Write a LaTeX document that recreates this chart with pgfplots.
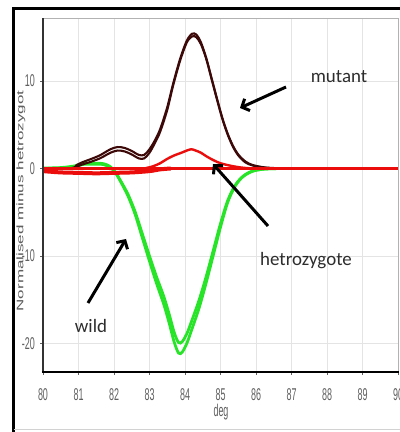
\documentclass[border=0pt]{standalone}
\usepackage{pgfplots}
\pgfplotsset{compat=1.18}
\usepackage{fontspec}
\setmainfont{Liberation Sans}
\newfontfamily\calib{Carlito}
\usetikzlibrary{arrows.meta}

\definecolor{mutantc}{RGB}{60,8,8}
\definecolor{hetc}{RGB}{235,12,12}
\definecolor{wildc}{RGB}{40,228,40}
\definecolor{gridc}{RGB}{228,228,228}
\definecolor{tickc}{RGB}{95,95,95}
\definecolor{notec}{RGB}{45,45,45}

\begin{document}
\begin{tikzpicture}
\useasboundingbox (0bp,0bp) rectangle (400bp,432bp);
\fill[white] (0bp,0bp) rectangle (400bp,432bp);
% outer frame
\draw[black, line width=3bp] (13.5bp,-2bp) -- (13.5bp,423bp) -- (402bp,423bp);
\draw[gray!35, line width=1bp] (13.5bp,2bp) -- (402bp,2bp);

\begin{axis}[
  at={(43bp,60bp)}, anchor=south west,
  scale only axis, width=355bp, height=354bp,
  xmin=80, xmax=90, ymin=-23.26, ymax=17.2,
  axis line style={draw=none},
  clip mode=individual,
  grid=major, grid style={gridc, line width=0.8bp},
  xtick={80,81,...,90}, ytick={-20,-10,0,10},
  xtick pos=bottom, ytick pos=left,
  tick align=outside, major tick length=3bp,
  tick style={tickc, line width=0.6bp},
  xticklabel={\scalebox{1}[1.9]{\pgfmathprintnumber[assume math mode=true]{\tick}}},
  yticklabel={\scalebox{1}[1.9]{\pgfmathprintnumber[assume math mode=true]{\tick}}},
  xticklabel style={font=\fontsize{9}{9}\selectfont, text=tickc, anchor=center, inner sep=0pt, yshift=-20bp},
  yticklabel style={font=\fontsize{9}{9}\selectfont, text=tickc, anchor=east, inner sep=0pt, xshift=-5bp},
]
% wild type (two replicates)
\addplot[wildc, line width=2.8bp, smooth, tension=0.5] coordinates {
(80.0,0.0) (80.5,0.05) (80.9,0.2) (81.1,0.45) (81.4,0.5) (81.7,0.45) (81.9,0.1) (82.05,-0.55) (82.2,-1.6) (82.4,-3.2) (82.6,-5.3) (82.8,-7.95) (83.0,-10.6) (83.2,-13.15) (83.4,-15.5) (83.55,-17.6) (83.7,-19.9) (83.82,-21.1) (83.92,-21.0) (84.05,-20.0) (84.2,-18.3) (84.4,-15.9) (84.6,-13.0) (84.8,-9.85) (85.0,-6.7) (85.2,-3.9) (85.4,-2.1) (85.6,-1.05) (85.8,-0.5) (86.0,-0.2) (86.3,-0.05) (87,0) (90,0)};
\addplot[wildc, line width=2.8bp, smooth, tension=0.5] coordinates {
(80.0,0.05) (80.5,0.1) (80.9,0.3) (81.1,0.55) (81.4,0.6) (81.7,0.55) (81.9,0.2) (82.05,-0.5) (82.2,-1.5) (82.4,-3.0) (82.6,-5.0) (82.8,-7.5) (83.0,-10.0) (83.2,-12.4) (83.4,-14.6) (83.55,-16.6) (83.7,-18.8) (83.82,-19.9) (83.92,-19.8) (84.05,-18.9) (84.2,-17.3) (84.4,-15.0) (84.6,-12.3) (84.8,-9.3) (85.0,-6.3) (85.2,-3.7) (85.4,-2.0) (85.6,-1.0) (85.8,-0.45) (86.0,-0.2) (86.3,-0.05) (87,0) (90,0)};
% mutant (two replicates)
\addplot[mutantc, line width=2.1bp, smooth, tension=0.5] coordinates {
(80.0,0) (80.8,0.05) (80.95,0.4) (81.1,0.7) (81.3,1.0) (81.6,1.5) (81.9,2.2) (82.1,2.45) (82.3,2.35) (82.5,2.0) (82.7,1.55) (82.85,1.55) (83.0,2.2) (83.15,3.2) (83.3,4.5) (83.5,7.0) (83.66,9.6) (83.86,12.5) (84.05,14.6) (84.2,15.4) (84.32,15.3) (84.45,14.4) (84.6,12.6) (84.75,10.3) (84.9,8.0) (85.05,5.8) (85.2,4.0) (85.35,2.6) (85.5,1.6) (85.7,0.8) (85.9,0.4) (86.2,0.15) (86.5,0.05) (87,0)};
\addplot[mutantc, line width=2.1bp, smooth, tension=0.5] coordinates {
(80.0,0) (80.8,0.0) (80.95,0.2) (81.1,0.45) (81.3,0.7) (81.6,1.15) (81.9,1.8) (82.1,2.05) (82.3,1.95) (82.5,1.6) (82.7,1.15) (82.85,1.15) (83.0,1.8) (83.15,2.9) (83.3,4.2) (83.5,6.7) (83.66,9.4) (83.86,12.3) (84.05,14.4) (84.2,15.1) (84.32,15.0) (84.45,14.2) (84.6,12.5) (84.75,10.2) (84.9,7.9) (85.05,5.7) (85.2,3.9) (85.35,2.5) (85.5,1.5) (85.7,0.7) (85.9,0.35) (86.2,0.1) (86.5,0.03) (87,0)};
% heterozygote reference
\addplot[hetc, line width=4bp, smooth] coordinates {
(80.0,-0.3) (80.5,-0.45) (81.0,-0.5) (81.5,-0.55) (82.0,-0.5) (82.5,-0.45) (83.0,-0.3) (83.3,-0.1) (83.6,0)};
\addplot[hetc, line width=3.2bp] coordinates {(80,0) (90,0)};
\addplot[hetc, line width=2.4bp, smooth, tension=0.5] coordinates {
(82.9,0.05) (83.1,0.25) (83.3,0.6) (83.5,1.1) (83.7,1.5) (83.9,1.8) (84.05,2.05) (84.18,2.2) (84.3,2.05) (84.45,1.8) (84.6,1.4) (84.8,0.95) (85.0,0.6) (85.3,0.3) (85.6,0.1) (85.9,0)};
% plot frame
\draw[gray!60, line width=0.8bp] (rel axis cs:0,1) -- (rel axis cs:1,1) -- (rel axis cs:1,0);
\draw[black!80, line width=1.5bp] (rel axis cs:0,0) -- (rel axis cs:0,1);
\draw[black, line width=2.5bp] (rel axis cs:-0.003,0) -- (rel axis cs:1.003,0);
\end{axis}

% axis titles
\node[rotate=90, text=tickc, font=\fontsize{9.5}{9.5}\selectfont] at (21bp,231bp)
  {\scalebox{1.8}[1]{Normalised minus hetrozygot}};
\node[text=tickc, font=\fontsize{9}{9}\selectfont] at (221bp,20bp)
  {\scalebox{1}[1.9]{deg}};

% annotations
\node[anchor=base, text=notec, font=\calib\fontsize{19}{19}\selectfont] at (339bp,349bp) {mutant};
\node[anchor=base, text=notec, font=\calib\fontsize{19}{19}\selectfont] at (306bp,166bp) {hetrozygote};
\node[anchor=base, text=notec, font=\calib\fontsize{19}{19}\selectfont] at (91bp,99bp) {wild};
\draw[black, line width=3bp, -{Straight Barb[length=6bp,width=13bp]}] (286bp,345bp) -- (240bp,324bp);
\draw[black, line width=3bp, -{Straight Barb[length=6bp,width=13bp]}] (268bp,206bp) -- (213bp,268bp);
\draw[black, line width=3bp, -{Straight Barb[length=6bp,width=13bp]}] (88bp,129bp) -- (126bp,193bp);
\end{tikzpicture}
\end{document}
